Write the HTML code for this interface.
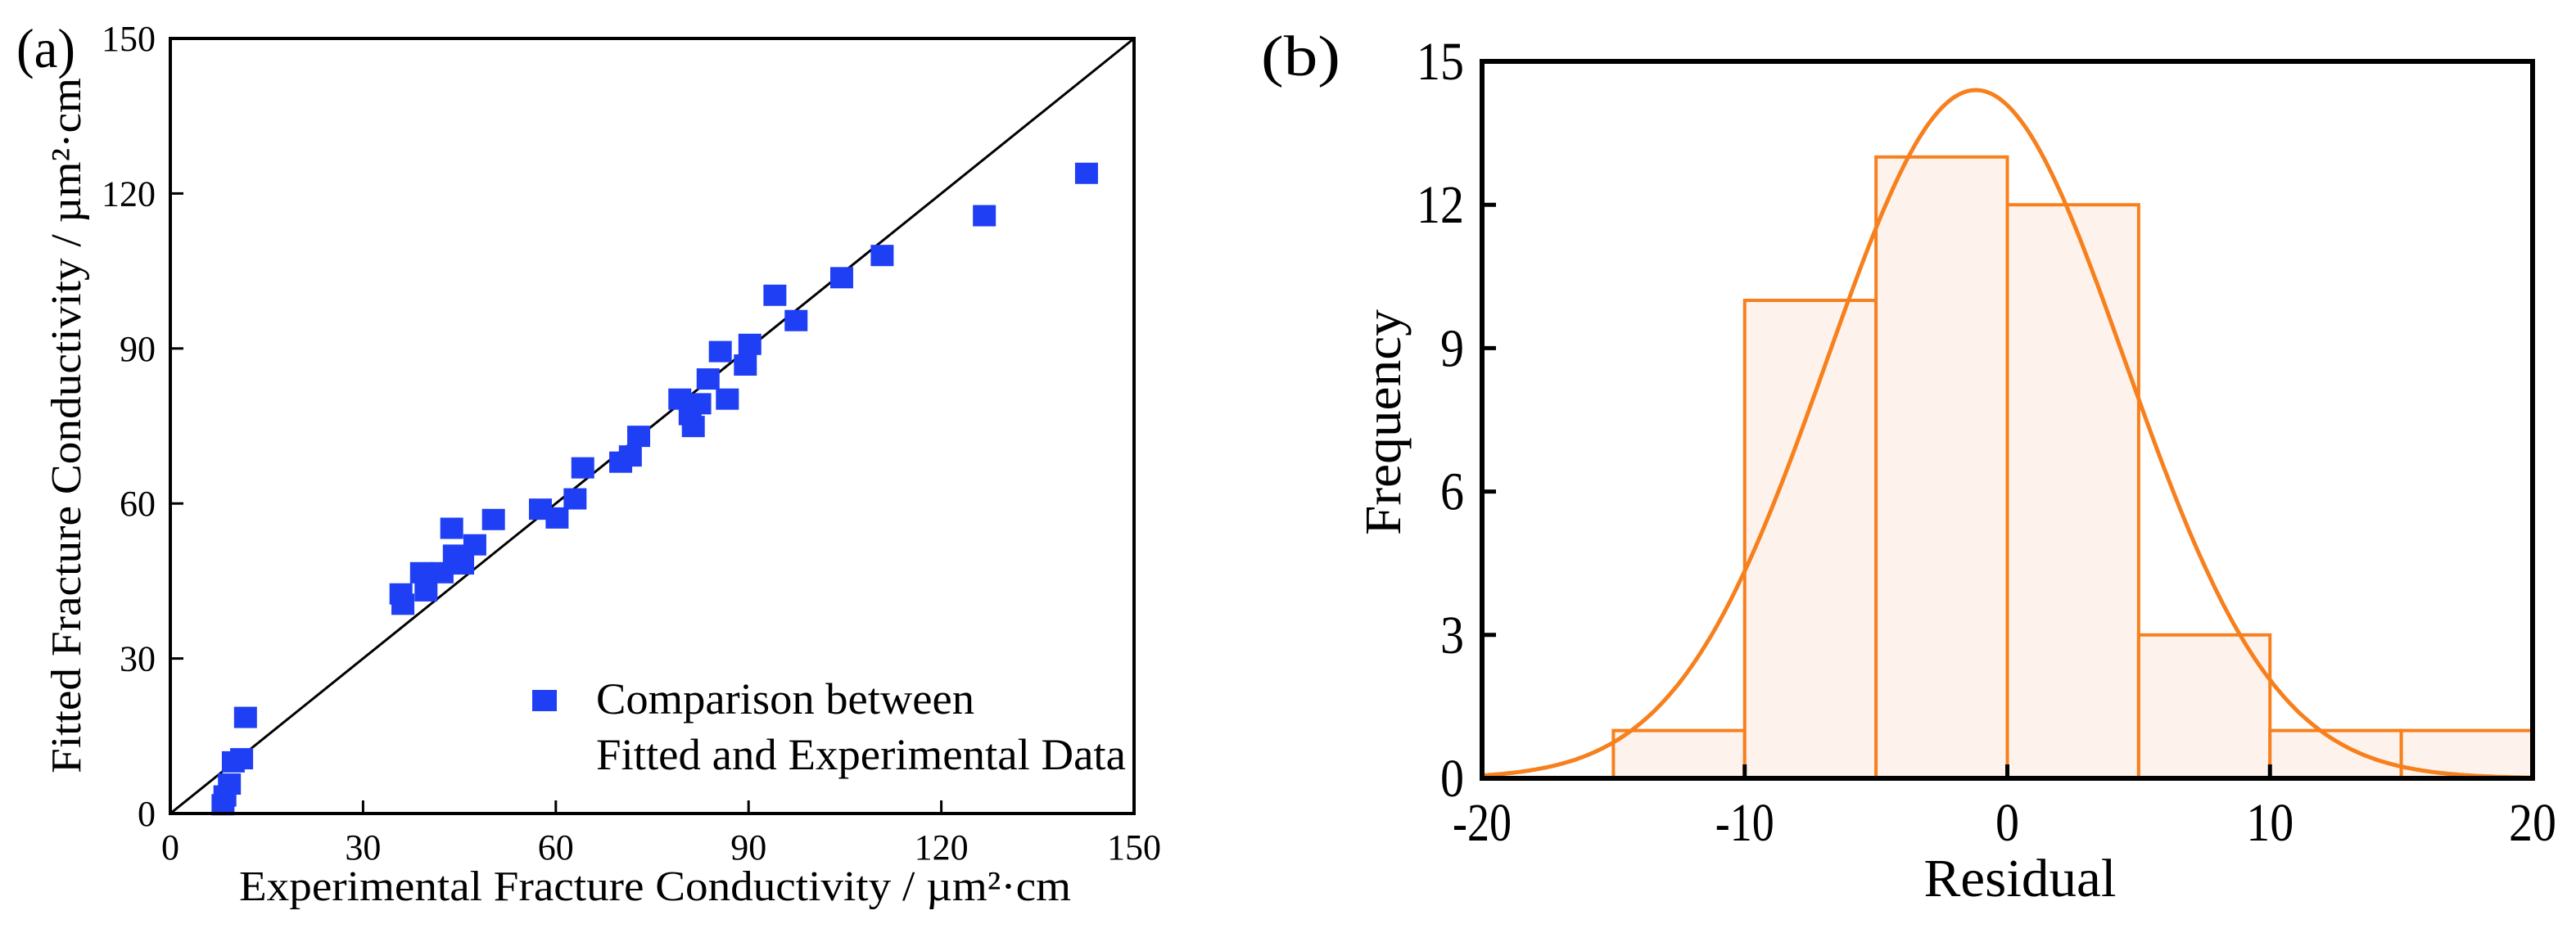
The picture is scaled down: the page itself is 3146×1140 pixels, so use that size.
<!DOCTYPE html>
<html><head><meta charset="utf-8"><style>
html,body{margin:0;padding:0;background:#fff;}
svg{display:block;font-family:"Liberation Serif","DejaVu Serif",serif;}
</style></head><body>
<svg id="c" width="3146" height="1140" viewBox="0 0 3146 1140"></svg>
<script>
// ---- panel (a) data ----
const expX = [8.2,8.5,9.2,9.8,11.1,11.7,35.9,36.2,39.1,39.8,42.3,43.8,44.2,45.5,47.4,50.3,57.6,60.2,63.0,64.2,70.1,71.6,72.9,79.3,80.9,81.4,82.4,83.7,85.6,86.7,89.5,90.2,94.1,97.4,104.5,110.8,126.7,142.6];
const fitY = [1.7,3.4,5.7,10.0,10.6,18.6,42.5,40.5,46.6,43.1,46.6,55.2,50.0,48.3,52.0,56.9,58.9,57.2,60.9,66.9,68.0,69.2,73.0,80.2,77.2,74.9,79.3,84.1,89.4,80.2,86.8,90.8,100.3,95.4,103.7,108.0,115.7,123.9];
const aTicks = [0,30,60,90,120,150];
// ---- panel (b) data ----
const binStarts = [-15,-10,-5,0,5,10,15];
const binCounts = [1,10,13,12,3,1,1];
const binWidth = 5;
const xTicksB = [-20,-10,0,10,20];
const yTicksB = [0,3,6,9,12,15];
const fitMu = -1.2, fitSigma = 5.68, fitPeak = 14.4;

const NS="http://www.w3.org/2000/svg";
const svg=document.getElementById('c');
function mk(tag,attrs,parent){const e=document.createElementNS(NS,tag);for(const k in attrs)e.setAttribute(k,attrs[k]);(parent||svg).appendChild(e);return e;}
function txt(s,attrs){const e=mk('text',attrs);e.textContent=s;return e;}

// ===== Panel (a) =====
const ax={l:208,r:1385,t:47,b:994};
const sxA=v=>ax.l+(v/150)*(ax.r-ax.l);
const syA=v=>ax.b-(v/150)*(ax.b-ax.t);
let e;
e=mk('line',{x1:sxA(0),y1:syA(0),x2:sxA(150),y2:syA(150),stroke:'#000','stroke-width':3});


aTicks.forEach(t=>{
  e=mk('line',{x1:sxA(t),y1:ax.b,x2:sxA(t),y2:ax.b-16,stroke:'#000','stroke-width':3});
  
  
  e=mk('line',{x1:ax.l,y1:syA(t),x2:ax.l+16,y2:syA(t),stroke:'#000','stroke-width':3});
  
  
  e=txt(String(t),{x:sxA(t),y:1050,'font-size':44,'text-anchor':'middle'});
  
  
  e=txt(String(t),{x:190,y:syA(t)+15,'font-size':44,'text-anchor':'end'});
  
  
});
const ms=28;
expX.forEach((x,i)=>{
  e=mk('rect',{x:sxA(x)-ms/2,y:syA(fitY[i])-13,width:ms,height:26,fill:'#1f3ff5'});
  
  
});
e=mk('rect',{x:ax.l,y:ax.t,width:ax.r-ax.l,height:ax.b-ax.t,fill:'none',stroke:'#000','stroke-width':4});


e=mk('rect',{x:650,y:843,width:30,height:26,fill:'#1f3ff5'});


e=txt('Comparison between',{x:728,y:872,'font-size':54,textLength:462,lengthAdjust:'spacingAndGlyphs'});


e=txt('Fitted and Experimental Data',{x:728,y:940,'font-size':54,textLength:647,lengthAdjust:'spacingAndGlyphs'});


e=txt('Experimental Fracture Conductivity / µm²·cm',{x:292,y:1100,'font-size':52,textLength:1016,lengthAdjust:'spacingAndGlyphs'});


e=txt('Fitted Fracture Conductivity / µm²·cm',{x:0,y:0,'font-size':52,'text-anchor':'middle',textLength:850,lengthAdjust:'spacingAndGlyphs',transform:'translate(98,520) rotate(-90)'});


e=txt('(a)',{x:20,y:82,'font-size':68,textLength:72,lengthAdjust:'spacingAndGlyphs'});



// ===== Panel (b) =====
const bx={l:1810,r:3093,t:75,b:951};
const sxB=v=>bx.l+(v+20)/40*(bx.r-bx.l);
const syB=v=>bx.b-(v/15)*(bx.b-bx.t);
const orange='#f7801e';
binStarts.forEach((s,i)=>{
  e=mk('rect',{x:sxB(s),y:syB(binCounts[i]),width:sxB(s+binWidth)-sxB(s),height:bx.b-syB(binCounts[i]),fill:'#fdf3ec',stroke:orange,'stroke-width':4});
  
  
});
let d='';
for(let i=0;i<=400;i++){const x=-20+40*i/400;const y=fitPeak*Math.exp(-0.5*((x-fitMu)/fitSigma)**2);d+=(i?'L':'M')+sxB(x).toFixed(1)+' '+syB(y).toFixed(1);}
e=mk('path',{d:d,fill:'none',stroke:orange,'stroke-width':5});


e=mk('rect',{x:bx.l,y:bx.t,width:bx.r-bx.l,height:bx.b-bx.t,fill:'none',stroke:'#000','stroke-width':6});


const lenFor=s=>s.replace('-','').length*29+(s.includes('-')?14:0);
xTicksB.forEach(t=>{
  e=mk('line',{x1:sxB(t),y1:bx.b,x2:sxB(t),y2:bx.b-17,stroke:'#000','stroke-width':5});
  
  
  const s=String(t);
  e=txt(s,{x:sxB(t),y:1027,'font-size':66,'text-anchor':'middle',textLength:lenFor(s),lengthAdjust:'spacingAndGlyphs'});
  
  
});
yTicksB.forEach(t=>{
  e=mk('line',{x1:bx.l,y1:syB(t),x2:bx.l+17,y2:syB(t),stroke:'#000','stroke-width':5});
  
  
  const s=String(t);
  e=txt(s,{x:1788,y:syB(t)+22,'font-size':66,'text-anchor':'end',textLength:lenFor(s),lengthAdjust:'spacingAndGlyphs'});
  
  
});
e=txt('Residual',{x:2467,y:1095,'font-size':66,'text-anchor':'middle',textLength:235,lengthAdjust:'spacingAndGlyphs'});


e=txt('Frequency',{x:0,y:0,'font-size':62,'text-anchor':'middle',textLength:276,lengthAdjust:'spacingAndGlyphs',transform:'translate(1710,516) rotate(-90)'});


e=txt('(b)',{x:1540,y:92,'font-size':70,textLength:97,lengthAdjust:'spacingAndGlyphs'});


</script>
</body></html>
